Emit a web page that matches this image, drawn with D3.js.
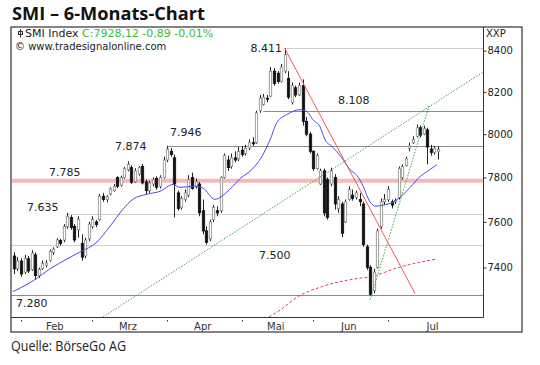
<!DOCTYPE html>
<html><head><meta charset="utf-8">
<script src="https://cdn.jsdelivr.net/npm/d3@7/dist/d3.min.js"></script>
<style>body{margin:0;background:#fff}svg{display:block}</style>
</head><body>
<svg id="c" width="540" height="365"></svg>
<script>
// ---- data (daily candles, SMI) ----
const opens  = [7450,7394,7428,7380,7438,7390,7455,7365,7395,7410,7430,7465,7490,7518,7520,7580,7620,7580,7565,7505,
                7450,7525,7580,7600,7610,7715,7700,7725,7740,7800,7765,7800,7835,7845,7780,7815,7850,7780,7740,7770,
                7795,7760,7800,7880,7920,7890,7730,7665,7700,7720,7800,7760,7770,7650,7560,7525,7610,7650,7650,7800,
                7880,7850,7890,7885,7925,7910,7935,7960,7960,8110,8140,8170,8180,8300,8290,8250,8300,8265,8150,8220,
                8185,8230,8060,8000,7920,7840,7770,7830,7790,7770,7800,7660,7680,7600,7700,7720,7710,7700,7680,7490,
                7400,7300,7400,7580,7690,7700,7690,7690,7710,7800,7855,7935,7960,7990,8030,8000,8020,7930,7915,7920];
const highs  = [7467,7445,7440,7455,7450,7475,7466,7400,7430,7432,7478,7488,7528,7525,7590,7640,7630,7590,7625,7545,
                7530,7600,7625,7608,7725,7730,7720,7755,7770,7805,7808,7848,7874,7855,7842,7852,7862,7790,7785,7800,
                7805,7810,7895,7946,7935,7905,7740,7715,7745,7810,7822,7795,7780,7700,7580,7610,7675,7670,7805,7910,
                7900,7910,7920,7940,7945,7950,7975,7985,8110,8185,8190,8185,8320,8315,8300,8335,8411,8300,8245,8230,
                8245,8260,8080,8010,7925,7910,7840,7840,7800,7845,7815,7715,7690,7700,7760,7745,7740,7730,7690,7500,
                7410,7395,7570,7705,7725,7760,7700,7705,7850,7860,7895,7960,7990,8045,8040,8040,8030,7950,7945,7945];
const lows   = [7372,7385,7360,7372,7376,7385,7347,7355,7390,7400,7425,7455,7485,7495,7510,7570,7565,7510,7530,7430,
                7440,7515,7570,7577,7605,7690,7688,7718,7735,7752,7758,7795,7828,7770,7775,7808,7768,7725,7730,7760,
                7745,7750,7795,7870,7895,7620,7650,7655,7690,7710,7745,7750,7625,7545,7500,7515,7600,7625,7640,7795,
                7830,7840,7870,7875,7895,7900,7925,7945,7955,8100,8135,8150,8175,8230,8240,8245,8290,8165,8140,8175,
                8180,8040,7990,7910,7830,7835,7765,7625,7610,7760,7655,7640,7533,7595,7695,7695,7700,7670,7490,7390,
                7280,7290,7395,7570,7675,7690,7660,7680,7700,7790,7850,7920,7955,7985,7985,7995,7860,7900,7905,7882];
const closes = [7394,7428,7372,7440,7385,7462,7365,7392,7418,7420,7470,7480,7520,7505,7580,7625,7575,7520,7612,7445,
                7520,7590,7610,7588,7715,7700,7712,7748,7760,7760,7800,7840,7860,7778,7830,7845,7775,7740,7775,7790,
                7755,7800,7880,7930,7905,7770,7660,7705,7730,7790,7750,7780,7640,7560,7510,7600,7665,7640,7800,7900,
                7845,7890,7880,7920,7905,7935,7960,7955,8100,8170,8175,8165,8300,8240,8250,8320,8380,8175,8230,8185,
                8230,8060,8000,7920,7840,7900,7830,7640,7620,7830,7680,7700,7550,7690,7745,7705,7730,7690,7500,7400,
                7285,7380,7560,7690,7700,7745,7675,7695,7840,7850,7885,7945,7975,8030,7995,8025,7940,7915,7935,7928.12];

// moving average (blue): bar index / value
const maIdx = [-0.3,5.4,10.1,14.9,18.5,23.3,27,30.6,33.4,37.4,41,44.7,46.6,50.8,53.1,56.4,60.6,63.5,66.8,69.6,71.9,
               73.8,76.6,80.3,82.3,83.9,85.9,87.3,89.3,92,94.3,96.3,98,100,101.6,103.6,106.4,108.4,111.2,114,116.8,118.7];
const maVal = [7296,7343,7394,7437,7467,7511,7581,7656,7701,7724,7737,7768,7755,7760,7751,7701,7746,7795,7836,7896,7974,
               8054,8092,8115,8105,8068,8035,7974,7942,7891,7836,7809,7760,7688,7670,7675,7688,7710,7755,7804,7836,7859];
// long moving average (red dashed)
const ma200Idx = [71.6,74.7,79.7,86.5,95.7,100,108.3,118.7];
const ma200Val = [7189,7218,7275,7318,7351,7360,7402,7437];

// trend lines: [index, price]
const greenLong  = [[25.0,7189],[131.7,8296]];
const greenSteep = [[100,7262],[116.5,8134]];
const redDown    = [[76,8411],[112.6,7288]];

// month axis
const monthNames    = ["Feb","Mrz","Apr","Mai","Jun","Jul"];
const monthStartIdx = [2,22,43,64,84,105];
const monthLabelIdx = [11.5,32,53,73.5,94,117.5];
const yTicks = [8400,8200,8000,7800,7600,7400];

// horizontal levels
const levelValues = [8411,8108,7946,7874,7785,7635,7500,7280];
const levelLabels = ["8.411","8.108","7.946","7.874","7.785","7.635","7.500","7.280"];
const levelStartIdx = [76,70,43.3,null,-5,15,-5,-5];

// ---- drawing ----
const svg = d3.select("#c");
const P = {l:11.5, r:483, t:27, b:317};
const n = closes.length;
const x = d3.scaleLinear().domain([0,119]).range([13.9,437.9]);
const y = d3.scaleLog().domain([7189,8512]).range([317,28]);
const FONT = "'DejaVu Sans', Verdana, sans-serif";

svg.append("text").attr("x",12).attr("y",20).text("SMI – 6-Monats-Chart")
  .attr("font-family","'Open Sans', sans-serif").attr("font-weight",700).attr("font-size",18)
  .attr("textLength",193).attr("lengthAdjust","spacingAndGlyphs").attr("fill","#111");
svg.append("text").attr("x",11).attr("y",351).text("Quelle: BörseGo AG")
  .attr("font-family","'Open Sans', sans-serif").attr("font-size",14)
  .attr("textLength",115).attr("lengthAdjust","spacingAndGlyphs").attr("fill","#222");

svg.append("defs").append("clipPath").attr("id","pc").append("rect")
  .attr("x",P.l).attr("y",P.t).attr("width",P.r-P.l).attr("height",P.b-P.t);
const g = svg.append("g").attr("clip-path","url(#pc)");

// levels
const lvl = g.append("g");
levelValues.forEach((v,k)=>{
  if (levelStartIdx[k]===null) return;
  const yy = Math.round(y(v))+0.5;
  if (v===7785) {
    lvl.append("line").attr("x1",P.l).attr("x2",P.r).attr("y1",y(v)).attr("y2",y(v))
      .attr("stroke","#f6b9b9").attr("stroke-width",4);
  } else {
    const light = (v===8411||v===7635||v===7500);
    lvl.append("line").attr("x1",x(levelStartIdx[k])).attr("x2",P.r).attr("y1",yy).attr("y2",yy)
      .attr("stroke", light?"#cfcfcf":"#8c8c8c").attr("stroke-width",1);
  }
});

// long MA dashed red
const lineGen = d3.line().x(d=>x(d[0])).y(d=>y(d[1]));
g.append("path").datum(ma200Idx.map((d,k)=>[d,ma200Val[k]]))
  .attr("d",lineGen.curve(d3.curveMonotoneX)).attr("fill","none")
  .attr("stroke","#e0474c").attr("stroke-width",1).attr("stroke-dasharray","3,2");

// candles
const cg = g.append("g");
for (let i=0;i<n;i++){
  const cx = Math.round(x(i))+0.5;
  const up = closes[i]>=opens[i];
  cg.append("line").attr("x1",cx).attr("x2",cx).attr("y1",y(highs[i])).attr("y2",y(lows[i]))
    .attr("stroke","#222").attr("stroke-width",1);
  const top = y(Math.max(opens[i],closes[i])), bot = y(Math.min(opens[i],closes[i]));
  cg.append("rect").attr("x",cx-1.2).attr("width",2.4).attr("y",top).attr("height",Math.max(1,bot-top))
    .attr("fill", up?"#ffffff":"#111").attr("stroke", up?"#888":"#111").attr("stroke-width",0.8);
}

// blue MA
g.append("path").datum(maIdx.map((d,k)=>[d,maVal[k]]))
  .attr("d",d3.line().x(d=>x(d[0])).y(d=>y(d[1])).curve(d3.curveMonotoneX)).attr("fill","none")
  .attr("stroke","#4a4ae6").attr("stroke-width",1);

// trend lines
const tl = d3.line().x(d=>x(d[0])).y(d=>y(d[1]));
g.append("path").datum(greenLong).attr("d",tl).attr("fill","none").attr("stroke","#2e9a2e")
  .attr("stroke-width",0.9).attr("stroke-dasharray","1.5,1.5");
g.append("path").datum(greenSteep).attr("d",tl).attr("fill","none").attr("stroke","#2e9a2e")
  .attr("stroke-width",0.9).attr("stroke-dasharray","1.5,1.5");
g.append("path").datum(redDown).attr("d",tl).attr("fill","none").attr("stroke","#ee5a5e")
  .attr("stroke-width",1);

// level labels
const lab = svg.append("g").attr("font-family",FONT).attr("font-size",11).attr("fill","#222");
const labPos = { // [x, dy, anchor]
  "8.411":[282,4,"end"], "8.108":[338,-7,"start"], "7.946":[170,-10,"start"], "7.874":[115,-11,"start"],
  "7.785":[49,-5,"start"], "7.635":[27,-3,"start"], "7.500":[259,14,"start"], "7.280":[16,12,"start"]};
levelValues.forEach((v,k)=>{
  const p = labPos[levelLabels[k]];
  lab.append("text").attr("x",p[0]).attr("y",y(v)+p[1]).attr("text-anchor",p[2]).text(levelLabels[k]);
});

// legend
svg.append("rect").attr("x",18.5).attr("y",31.5).attr("width",4).attr("height",3).attr("fill","none").attr("stroke","#333");
svg.append("line").attr("x1",20.5).attr("x2",20.5).attr("y1",29).attr("y2",37.5).attr("stroke","#333");
const leg = svg.append("text").attr("x",25).attr("y",37).attr("font-family",FONT).attr("font-size",11).attr("fill","#222");
leg.append("tspan").text("SMI Index ");
leg.append("tspan").attr("fill","#2fc22f").text("C:7928,12 -0,89 -0,01%");
svg.append("text").attr("x",15).attr("y",50).attr("font-family",FONT).attr("font-size",10).attr("fill","#222")
  .text("© www.tradesignalonline.com");

// frames
svg.append("rect").attr("x",11).attr("y",27).attr("width",511).attr("height",305)
  .attr("fill","none").attr("stroke","#333").attr("stroke-width",1.2);
svg.append("line").attr("x1",483.5).attr("x2",483.5).attr("y1",27).attr("y2",317.5).attr("stroke","#333");
svg.append("line").attr("x1",11).attr("x2",483.5).attr("y1",317.5).attr("y2",317.5).attr("stroke","#333");

// right axis
const ax = svg.append("g").attr("transform","translate(483.5,0)")
  .call(d3.axisRight(y).tickValues(yTicks).tickSize(3).tickPadding(1).tickFormat(d3.format("d")));
ax.select(".domain").remove();
ax.selectAll("text").attr("font-family",FONT).attr("font-size",10).attr("fill","#222");
ax.selectAll("line").attr("stroke","#333");
svg.append("text").attr("x",486).attr("y",37).attr("font-family",FONT).attr("font-size",10).attr("fill","#222").text("XXP");

// bottom month axis
const mx = svg.append("g").attr("font-family",FONT).attr("font-size",10).attr("fill","#333");
monthStartIdx.forEach(i=>{
  mx.append("rect").attr("x",Math.round(x(i))).attr("y",320).attr("width",1).attr("height",1.5).attr("fill","#333");
});
monthNames.forEach((m,k)=>{
  mx.append("text").attr("x",x(monthLabelIdx[k])).attr("y",330).attr("text-anchor","middle").text(m);
});
</script>
</body></html>
